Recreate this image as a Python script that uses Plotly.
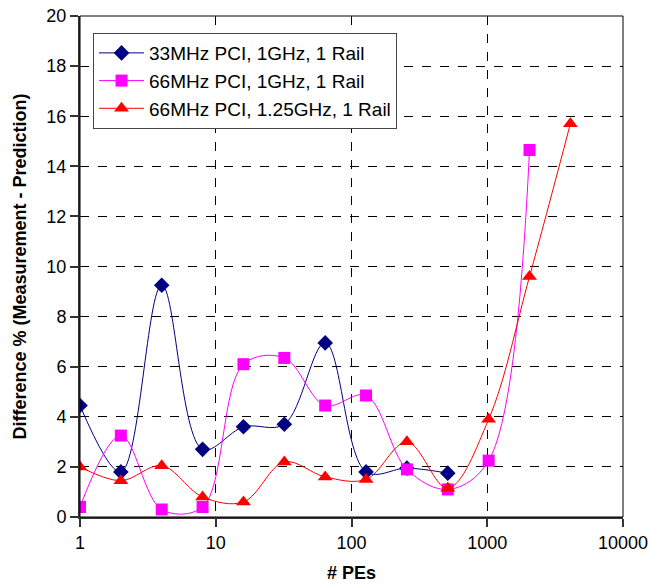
import plotly.graph_objects as go

# numero de PEs
pes = [1, 2, 4, 8, 16, 32, 64, 128, 256, 512, 1024, 2048, 4096]

# diferenca % (medicao - predicao)
pci33_1ghz = [4.45, 1.8, 9.25, 2.7, 3.6, 3.7, 6.95, 1.8, 1.95, 1.75]
pci66_1ghz = [0.4, 3.25, 0.3, 0.4, 6.1, 6.35, 4.45, 4.85, 1.9, 1.1, 2.25, 14.65]
pci66_125ghz = [2.0, 1.45, 2.05, 0.8, 0.6, 2.2, 1.6, 1.5, 3.0, 1.15, 3.9, 9.6, 15.7]

nomes = ['33MHz PCI, 1GHz, 1 Rail', '66MHz PCI, 1GHz, 1 Rail', '66MHz PCI, 1.25GHz, 1 Rail']
y_ticks = [0, 2, 4, 6, 8, 10, 12, 14, 16, 18, 20]

fonte = 'Liberation Sans, Arial, sans-serif'

fig = go.Figure()
fig.add_trace(go.Scatter(x=pes[:len(pci33_1ghz)], y=pci33_1ghz, name=nomes[0],
                         mode='lines+markers', line=dict(color='#000080', width=1, shape='spline', smoothing=1),
                         marker=dict(symbol='diamond', size=12, color='#000080')))
fig.add_trace(go.Scatter(x=pes[:len(pci66_1ghz)], y=pci66_1ghz, name=nomes[1],
                         mode='lines+markers', line=dict(color='#FF00FF', width=1, shape='spline', smoothing=1),
                         marker=dict(symbol='square', size=12, color='#FF00FF')))
fig.add_trace(go.Scatter(x=pes[:len(pci66_125ghz)], y=pci66_125ghz, name=nomes[2],
                         mode='lines+markers', line=dict(color='#FF0000', width=1, shape='spline', smoothing=1),
                         marker=dict(symbol='triangle-up', size=13, color='#FF0000')))

fig.update_layout(
    width=651, height=585,
    margin=dict(l=80, r=28, t=16, b=68),
    paper_bgcolor='white', plot_bgcolor='white',
    font=dict(family=fonte, size=18, color='black'),
    showlegend=True,
    legend=dict(x=0.024, y=0.966, xanchor='left', yanchor='top',
                bordercolor='#444', borderwidth=1, bgcolor='white',
                font=dict(size=19), tracegroupgap=0, itemwidth=45),
)
fig.update_xaxes(type='log', range=[0, 4], tickvals=[1, 10, 100, 1000, 10000],
                 ticktext=['1', '10', '100', '1000', '10000'],
                 showgrid=True, gridcolor='black', griddash='dash', gridwidth=1,
                 showline=True, linecolor='#333', linewidth=2, mirror=False,
                 ticks='outside', ticklen=8, tickcolor='#333', tickwidth=2,
                 automargin=False,
                 title=dict(text='<b># PEs</b>', font=dict(size=18)), zeroline=False)
fig.update_yaxes(range=[0, 20], tickvals=y_ticks,
                 showgrid=True, gridcolor='black', griddash='dash', gridwidth=1,
                 showline=True, linecolor='#333', linewidth=2,
                 ticks='outside', ticklen=8, tickcolor='#333', tickwidth=2,
                 automargin=False,
                 title=dict(text='<b>Difference % (Measurement - Prediction)</b>', font=dict(size=18)),
                 zeroline=False)
# borda da area do grafico
fig.add_shape(type='rect', xref='paper', yref='paper', x0=0, y0=0, x1=1, y1=1,
              line=dict(color='black', width=1), layer='above')

# tira a margem padrao do body da pagina
fig.write_html('out.html', config={'displayModeBar': False},
               post_script="document.body.style.margin='0';")
